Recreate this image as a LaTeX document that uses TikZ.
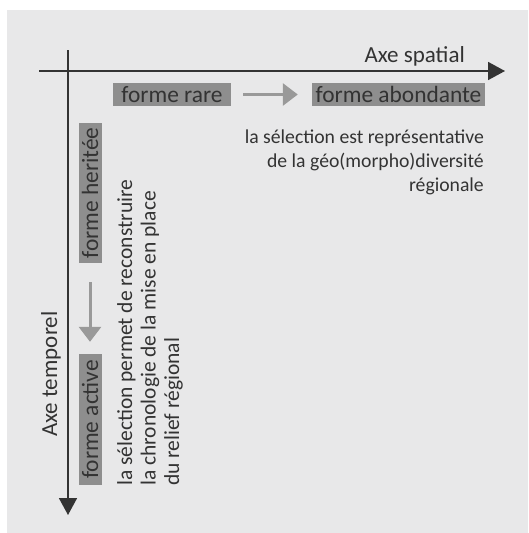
\documentclass[tikz,border=0pt]{standalone}
\usepackage{fontspec}
\setmainfont{Carlito}
\usetikzlibrary{arrows.meta}
\definecolor{bg-grey}{HTML}{E8E8E9}
\definecolor{box-grey}{HTML}{8E8E8E}
\definecolor{axis-dark}{HTML}{333333}
\definecolor{text-dark}{HTML}{333333}
\definecolor{arrow-grey}{HTML}{999999}
\begin{document}
\begin{tikzpicture}[x=1pt, y=-1pt,
        every node/.style={text=text-dark},
        axis/.style={draw=axis-dark, line width=1.8pt, -{Triangle[length=17pt,width=18pt]}},
        forme/.style={fill=box-grey, inner xsep=3pt, inner ysep=0pt,
            minimum height=23pt, font=\fontsize{23.4}{26}\selectfont},
        flow/.style={draw=arrow-grey, line width=3pt, -{Triangle[length=15pt,width=22pt]}},
        note/.style={inner sep=0pt}]
      \useasboundingbox (0,0) rectangle (528,533);
      \fill[bg-grey] (7,10) rectangle (528,533);
      % axes
      \coordinate (xstart) at (39,71);
      \coordinate (xend) at (505,71);
      \coordinate (tstart) at (68,50);
      \coordinate (tend) at (68,515);
      \draw[axis] (xstart) -- (xend);
      \draw[axis] (tstart) -- (tend);
      \node[anchor=base east, font=\fontsize{23}{26}\selectfont, inner sep=0pt]
            (spatial) at (465,62) {Axe spatial};
      \node[anchor=base west, rotate=90, font=\fontsize{23}{26}\selectfont, inner sep=0pt]
            (temporel) at (57,437) {Axe temporel};
      % spatial axis
      \node[forme, minimum width=118pt] (rare) at (172,94.5) {forme rare};
      \node[forme, minimum width=173pt] (abondante) at (398.5,94.5) {forme abondante};
      \draw[flow, shorten <=12pt, shorten >=14pt] (rare) -- (abondante);
      \node[note, align=right, anchor=north east, font=\fontsize{19.7}{24}\selectfont]
            (geodiv) at (484,130) {la sélection est représentative\\
            de la géo(morpho)diversité\\régionale};
      % temporal axis
      \node[forme, rotate=90, minimum width=140pt] (heritee) at (90,193) {forme heritée};
      \node[forme, rotate=90, minimum width=131pt] (active) at (90,419.5) {forme active};
      \draw[flow, shorten <=19pt, shorten >=12pt] (heritee) -- (active);
      \node[note, align=left, anchor=north west, rotate=90, font=\fontsize{21.5}{23.5}\selectfont]
            (chrono) at (117,486) {la sélection permet de reconstruire\\
            la chronologie de la mise en place\\du relief régional};
    \end{tikzpicture}
\end{document}
